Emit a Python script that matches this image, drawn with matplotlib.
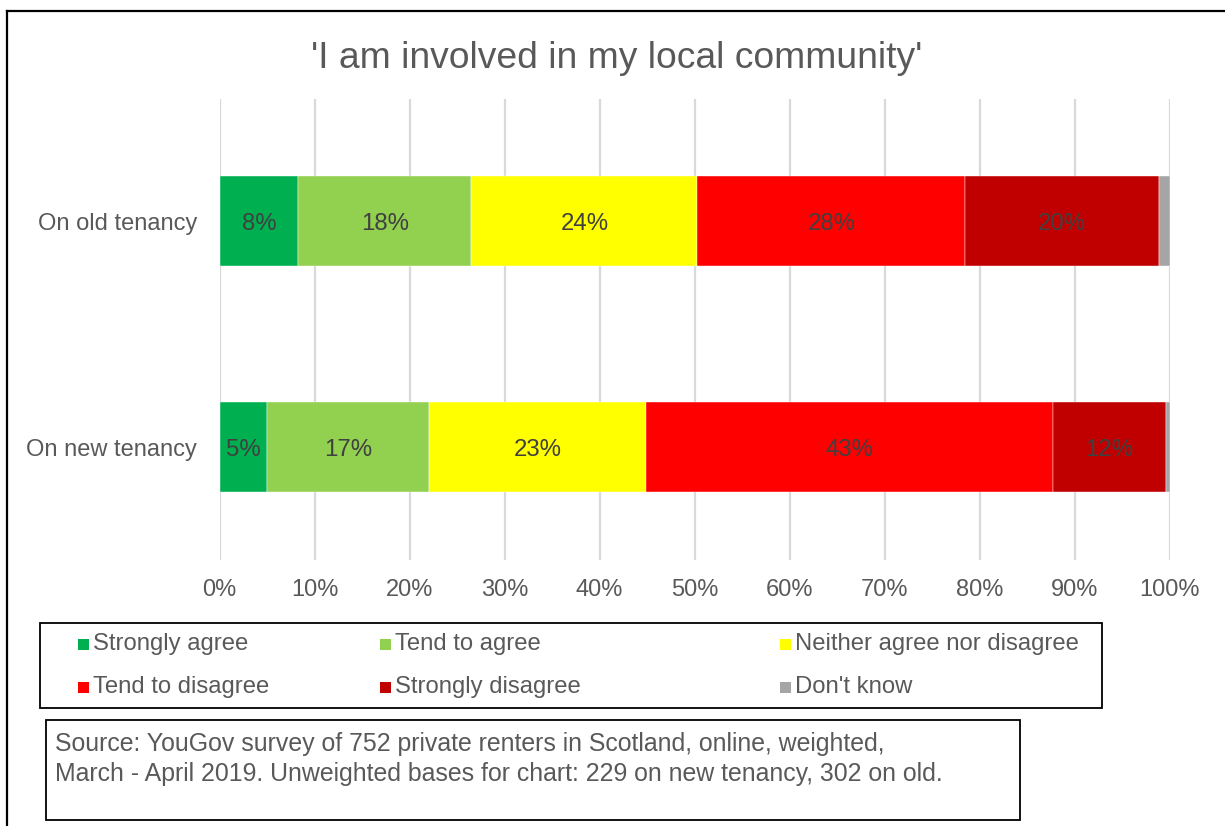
import matplotlib.pyplot as plt
from matplotlib.patches import Rectangle
from matplotlib.lines import Line2D

plt.rcParams['font.family'] = ['Liberation Sans', 'DejaVu Sans']

# survey answers, percent of renters
groups = ["On new tenancy", "On old tenancy"]
answers = ["Strongly agree", "Tend to agree", "Neither agree nor disagree",
           "Tend to disagree", "Strongly disagree", "Don't know"]
new_tenancy = [5.0, 17.1, 22.8, 42.8, 11.9, 0.4]
old_tenancy = [8.3, 18.2, 23.8, 28.2, 20.4, 1.1]
colors = ["#00B050", "#92D050", "#FFFF00", "#FF0000", "#C00000", "#A5A5A5"]
xticks = [0, 10, 20, 30, 40, 50, 60, 70, 80, 90, 100]

grey = "#595959"

fig = plt.figure(figsize=(12.25, 8.26), dpi=100)
ax = fig.add_axes([0.1792, 0.322, 0.7755, 0.558])

left = [0.0, 0.0]
for i, name in enumerate(answers):
    vals = [new_tenancy[i], old_tenancy[i]]
    bars = ax.barh([0, 1], vals, left=left, height=0.4, color=colors[i],
                   edgecolor="white", linewidth=0.3, label=name, zorder=3)
    if name != "Don't know":
        for b, v in zip(bars, vals):
            ax.text(b.get_x() + b.get_width() / 2, b.get_y() + b.get_height() / 2 - 0.012,
                    f"{round(v)}%", ha="center", va="center", fontsize=17.3,
                    color="#404040", zorder=4,
                    bbox=dict(facecolor=colors[i], edgecolor="none", pad=1.5))
    left = [l + v for l, v in zip(left, vals)]

ax.set_xlim(0, 100)
ax.set_ylim(-0.5, 1.54)
ax.set_xticks(xticks)
ax.set_xticklabels([f"{t}%" for t in xticks])
ax.set_yticks([0, 1])
ax.set_yticklabels(groups)
ax.tick_params(axis="both", length=0, labelsize=17, labelcolor=grey)
ax.tick_params(axis="x", pad=14)
ax.tick_params(axis="y", pad=16)
ax.grid(axis="x", color="#D9D9D9", linewidth=1.6, zorder=0)
for s in ax.spines.values():
    s.set_visible(False)

fig.text(0.5037, 0.929, "'I am involved in my local community'", ha="center",
         va="center", fontsize=26.8, color=grey)

# outer frame (left and top edges)
fig.add_artist(Line2D([6.5 / 1225, 6.5 / 1225], [0, 1 - 11 / 826], color="black", lw=1.6))
fig.add_artist(Line2D([6.5 / 1225, 1], [1 - 11 / 826, 1 - 11 / 826], color="black", lw=1.6))

# legend box
W, H = 1225, 826
fig.add_artist(Rectangle((40 / W, 1 - 708 / H), (1102 - 40) / W, (708 - 623) / H,
                         transform=fig.transFigure, fill=False, edgecolor="black", lw=1.3))
col_x = [78, 380, 780]
row_y = [644, 687]
for i, name in enumerate(answers):
    x = col_x[i % 3]
    y = row_y[i // 3]
    fig.add_artist(Rectangle((x / W, 1 - (y + 6) / H), 11 / W, 11 / H,
                             transform=fig.transFigure, facecolor=colors[i], edgecolor="none"))
    fig.text((x + 15) / W, 1 - y / H, name, ha="left", va="center", fontsize=17.2, color=grey)

# source note box
fig.add_artist(Rectangle((46 / W, 1 - 820 / H), (1020 - 46) / W, (820 - 720) / H,
                         transform=fig.transFigure, fill=False, edgecolor="black", lw=1.3))
fig.text(55 / W, 1 - 744 / H,
         "Source: YouGov survey of 752 private renters in Scotland, online, weighted,",
         ha="left", va="center", fontsize=17.9, color=grey)
fig.text(55 / W, 1 - 774 / H,
         "March - April 2019. Unweighted bases for chart: 229 on new tenancy, 302 on old.",
         ha="left", va="center", fontsize=17.9, color=grey)

fig.savefig("out.png", dpi=100, facecolor="white")
